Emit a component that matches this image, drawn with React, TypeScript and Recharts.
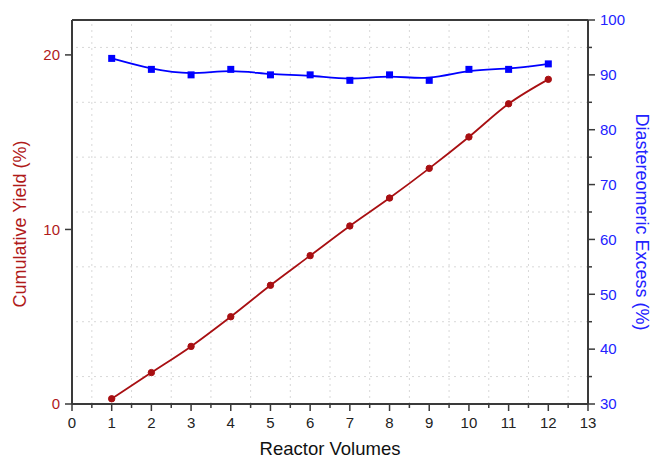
import React from "react";
import {
  ComposedChart,
  Line,
  XAxis,
  YAxis,
  ReferenceLine,
} from "recharts";

const volumes = [1, 2, 3, 4, 5, 6, 7, 8, 9, 10, 11, 12];
const yieldPct = [0.3, 1.8, 3.3, 5.0, 6.8, 8.5, 10.2, 11.8, 13.5, 15.3, 17.2, 18.6];
const deExcess = [93, 91, 90, 91, 90, 90, 89, 90, 89, 91, 91, 92];

const xTicks = [0, 0.5, 1, 1.5, 2, 2.5, 3, 3.5, 4, 4.5, 5, 5.5, 6, 6.5, 7, 7.5, 8, 8.5, 9, 9.5, 10, 10.5, 11, 11.5, 12, 12.5, 13];
const leftTicks = [0, 10, 20];
const rightTicks = [30, 35, 40, 45, 50, 55, 60, 65, 70, 75, 80, 85, 90, 95, 100];
const gridX = [0.5, 1.5, 2.5, 3.5, 4.5, 5.5, 6.5, 7.5, 8.5, 9.5, 10.5, 11.5, 12.5];
const gridY = [35, 45, 55, 65, 75, 85, 95];

const data = volumes.map((v, i) => ({
  volume: v,
  yield: yieldPct[i],
  de: deExcess[i],
}));

const RED = "#a80f12";
const RED_TEXT = "#b01a1a";
const BLUE = "#0000ff";
const BLUE_TEXT = "#2222ff";
const AXIS = "#3a3a3a";
const FONT = "'Liberation Sans', Arial, sans-serif";

const XTick = (props: any) => {
  const { x, y, payload } = props;
  const major = Number.isInteger(payload.value);
  return (
    <g>
      <line x1={x} x2={x} y1={y} y2={y + (major ? 7 : 4)} stroke={AXIS} strokeWidth={1.5} />
      {major && (
        <text x={x} y={y + 19} dy="0.355em" textAnchor="middle" fontSize={15} fill="#222" fontFamily={FONT}>
          {payload.value}
        </text>
      )}
    </g>
  );
};

const LeftTick = (props: any) => {
  const { x, y, payload } = props;
  return (
    <g>
      <line x1={x - 7} x2={x} y1={y} y2={y} stroke={AXIS} strokeWidth={1.5} />
      <text x={x - 12} y={y} dy="0.355em" textAnchor="end" fontSize={15} fill={RED_TEXT} fontFamily={FONT}>
        {payload.value}
      </text>
    </g>
  );
};

const RightTick = (props: any) => {
  const { x, y, payload } = props;
  const major = payload.value % 10 === 0;
  return (
    <g>
      <line x1={x} x2={x + (major ? 7 : 4)} y1={y} y2={y} stroke={AXIS} strokeWidth={1.5} />
      {major && (
        <text x={x + 12} y={y} dy="0.355em" textAnchor="start" fontSize={15} fill={BLUE_TEXT} fontFamily={FONT}>
          {payload.value}
        </text>
      )}
    </g>
  );
};

const SquareDot = (props: any) => {
  const { cx, cy } = props;
  if (cx == null || cy == null) return null;
  return <rect x={cx - 3.5} y={cy - 3.5} width={7} height={7} fill={BLUE} />;
};

export default function App() {
  return (
    <div style={{ position: "absolute", left: 0, top: 0, background: "#fff" }}>
      <ComposedChart
        width={653}
        height={460}
        data={data}
        margin={{ top: 20, right: 0, bottom: 0, left: 0 }}
        style={{ fontFamily: FONT }}
      >
        <XAxis
          dataKey="volume"
          type="number"
          domain={[0, 13]}
          ticks={xTicks}
          interval={0}
          height={56}
          tickSize={0}
          tickMargin={0}
          tickLine={false}
          tick={<XTick />}
          axisLine={{ stroke: AXIS, strokeWidth: 2 }}
          label={{ value: "Reactor Volumes", position: "center", dy: 16, fontSize: 18.5, fill: "#111", fontFamily: FONT }}
        />
        <YAxis
          yAxisId="left"
          orientation="left"
          domain={[0, 22]}
          ticks={leftTicks}
          interval={0}
          width={72}
          tickSize={0}
          tickMargin={0}
          tickLine={false}
          tick={<LeftTick />}
          axisLine={{ stroke: AXIS, strokeWidth: 2 }}
          label={{ value: "Cumulative Yield (%)", angle: -90, position: "center", dx: -16, dy: 12, fontSize: 18, fill: RED_TEXT, fontFamily: FONT }}
        />
        <YAxis
          yAxisId="right"
          orientation="right"
          domain={[30, 100]}
          ticks={rightTicks}
          interval={0}
          width={65}
          tickSize={0}
          tickMargin={0}
          tickLine={false}
          tick={<RightTick />}
          axisLine={{ stroke: AXIS, strokeWidth: 2 }}
          label={{ value: "Diastereomeric Excess (%)", angle: 90, position: "center", dx: 22, dy: 10, fontSize: 18, fill: BLUE_TEXT, fontFamily: FONT }}
        />
        {gridX.map((g) => (
          <ReferenceLine key={"gx" + g} x={g} yAxisId="left" stroke="#d8d8d8" strokeDasharray="2 4" strokeWidth={1} />
        ))}
        {gridY.map((g) => (
          <ReferenceLine key={"gy" + g} y={g} yAxisId="right" stroke="#d8d8d8" strokeDasharray="2 4" strokeWidth={1} />
        ))}
        <ReferenceLine y={22} yAxisId="left" stroke={AXIS} strokeWidth={2} />
        <Line
          yAxisId="left"
          type="monotone"
          dataKey="yield"
          stroke={RED}
          strokeWidth={1.8}
          dot={{ r: 3.2, fill: RED, stroke: RED, strokeWidth: 1 }}
          activeDot={false}
          isAnimationActive={false}
        />
        <Line
          yAxisId="right"
          type="basis"
          dataKey="de"
          stroke={BLUE}
          strokeWidth={1.8}
          dot={<SquareDot />}
          activeDot={false}
          isAnimationActive={false}
        />
      </ComposedChart>
    </div>
  );
}
